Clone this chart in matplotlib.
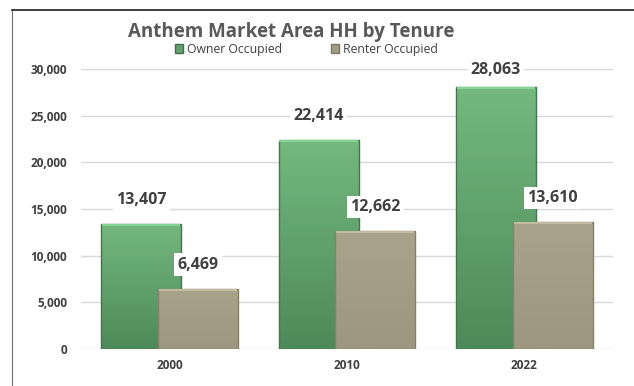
import numpy as np
import matplotlib
matplotlib.use("Agg")
import matplotlib.pyplot as plt
from matplotlib.patches import Rectangle

plt.rcParams['font.family'] = ['Open Sans', 'DejaVu Sans']

years = ["2000", "2010", "2022"]
owner = [13407, 22414, 28063]
renter = [6469, 12662, 13610]
series_names = ["Owner Occupied", "Renter Occupied"]
yticks = [0, 5000, 10000, 15000, 20000, 25000, 30000]

green_top = np.array([0x74, 0xb8, 0x7e]) / 255
green_bot = np.array([0x4d, 0x8a, 0x59]) / 255
tan_top = np.array([0xa8, 0xa3, 0x8a]) / 255
tan_bot = np.array([0x9c, 0x97, 0x7e]) / 255

fig = plt.figure(figsize=(6.34, 3.86), dpi=100)
ax = fig.add_axes([0.1278, 0.0959, 0.839, 0.7254])

x = np.arange(len(years))
w = 0.45
off = 0.16


def grad_bar(ax, xc, h, ctop, cbot, z):
    bar = ax.bar(xc, h, w, color=ctop, edgecolor='none', zorder=z)[0]
    n = 64
    cols = np.array([ctop * (1 - s) + cbot * s for s in np.linspace(0, 1, n)])
    im = ax.imshow(cols[:, None, :], extent=[xc - w / 2, xc + w / 2, 0, h],
                   aspect='auto', origin='upper', zorder=z + 0.1)
    im.set_clip_path(bar)
    # bevel edges
    ax.add_patch(Rectangle((xc - w / 2, 0), w, h, fill=False,
                           edgecolor=cbot * 0.85, lw=1.0, zorder=z + 0.2))
    ax.plot([xc - w / 2 + 0.01, xc + w / 2 - 0.01], [h - 150, h - 150],
            color=np.minimum(ctop * 1.15, 1), lw=1.5, zorder=z + 0.3)


for i in range(len(years)):
    grad_bar(ax, x[i] - off, owner[i], green_top, green_bot, 2)
    grad_bar(ax, x[i] + off, renter[i], tan_top, tan_bot, 3)

for i in range(len(years)):
    for xc, v in ((x[i] - off, owner[i]), (x[i] + off, renter[i])):
        ax.annotate(f"{v:,}", (xc, v), xytext=(0, 24 if v < 25000 else 17),
                    textcoords='offset pixels', ha='center', va='center',
                    fontsize=11.5, fontweight='bold', color='#404040', zorder=5,
                    bbox=dict(boxstyle='square,pad=0.2', fc='white', ec='none'),
                    annotation_clip=False)

ax.set_xlim(-0.5, 2.5)
ax.set_ylim(0, 30000)
ax.set_yticks(yticks)
ax.set_yticklabels([f"{v:,}" for v in yticks])
ax.set_xticks(x)
ax.set_xticklabels(years)
ax.tick_params(length=0, labelsize=8.5, labelcolor='#404040', pad=7)
ax.tick_params(axis='y', pad=10)
for lab in ax.get_xticklabels() + ax.get_yticklabels():
    lab.set_fontweight('bold')
ax.grid(axis='y', color='#d9d9d9', lw=1, zorder=0)
ax.set_axisbelow(True)
for s in ax.spines.values():
    s.set_visible(False)

fig.text(0.459, 0.918, "Anthem Market Area HH by Tenure", ha='center', va='center',
         fontsize=13.5, fontweight='bold', color='#595959')

handles = [Rectangle((0, 0), 1, 1, fc=(green_top + green_bot) / 2, ec=green_bot * 0.8),
           Rectangle((0, 0), 1, 1, fc=(tan_top + tan_bot) / 2, ec=tan_bot * 0.8)]
fig.legend(handles, series_names, loc='center', bbox_to_anchor=(0.483, 0.873),
           ncol=2, frameon=False, fontsize=8.8, handlelength=0.7, handleheight=0.7,
           handletextpad=0.3, columnspacing=4.0, labelcolor='#404040')

# outer frame (left and top)
fig.add_artist(plt.Line2D([12 / 634, 12 / 634], [0, 1 - 10 / 386], color='#707070', lw=0.8,
                          transform=fig.transFigure))
fig.add_artist(plt.Line2D([12 / 634, 1], [1 - 10 / 386, 1 - 10 / 386], color='#202020', lw=1.2,
                          transform=fig.transFigure))

fig.savefig("out.png", dpi=100)
